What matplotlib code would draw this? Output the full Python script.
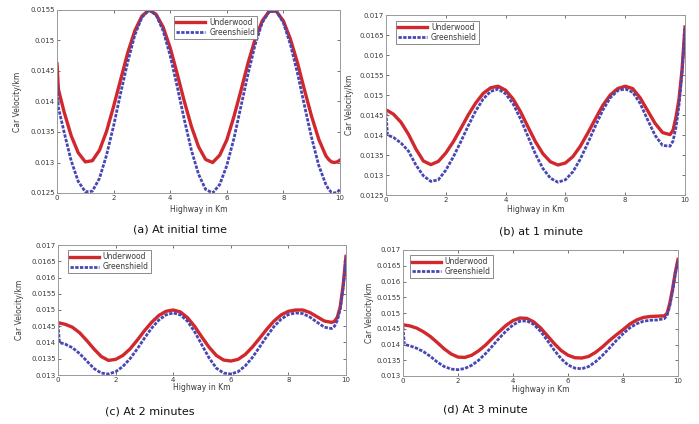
import matplotlib
matplotlib.use("Agg")
import matplotlib.pyplot as plt


# distance along the highway (km), shared by all four panels
highway_km = [0, 0.05, 0.25, 0.5, 0.75, 1.0, 1.25, 1.5, 1.75, 2.0, 2.25, 2.5, 2.75,
              3.0, 3.25, 3.5, 3.75, 4.0, 4.25, 4.5, 4.75, 5.0, 5.25, 5.5, 5.75,
              6.0, 6.25, 6.5, 6.75, 7.0, 7.25, 7.5, 7.75, 8.0, 8.25, 8.5, 8.75,
              9.0, 9.25, 9.5, 9.6, 9.7, 9.8, 9.9, 10.0]

# (a) at initial time
underwood_a = [0.01462, 0.01420, 0.01383, 0.01344, 0.01316, 0.01301, 0.01303, 0.01320,
               0.01351, 0.01392, 0.01436, 0.01480, 0.01516, 0.01540, 0.01550, 0.01543,
               0.01522, 0.01488, 0.01445, 0.01400, 0.01359, 0.01326, 0.01305, 0.01300,
               0.01312, 0.01337, 0.01375, 0.01418, 0.01463, 0.01502, 0.01532, 0.01548,
               0.01548, 0.01532, 0.01502, 0.01463, 0.01418, 0.01375, 0.01338, 0.01311,
               0.01305, 0.01301, 0.01300, 0.01301, 0.01304]
greenshield_a = [0.01430, 0.01390, 0.01350, 0.01303, 0.01269, 0.01252, 0.01253, 0.01274,
                 0.01312, 0.01360, 0.01414, 0.01465, 0.01509, 0.01538, 0.01550, 0.01542,
                 0.01516, 0.01475, 0.01424, 0.01370, 0.01320, 0.01281, 0.01256, 0.01250,
                 0.01264, 0.01295, 0.01339, 0.01392, 0.01445, 0.01493, 0.01529, 0.01548,
                 0.01548, 0.01529, 0.01493, 0.01446, 0.01392, 0.01340, 0.01295, 0.01264,
                 0.01256, 0.01251, 0.01250, 0.01251, 0.01256]

# (b) at 1 minute
underwood_b = [0.01462, 0.01461, 0.01452, 0.01432, 0.01402, 0.01365, 0.01335, 0.01326,
               0.01334, 0.01355, 0.01383, 0.01416, 0.01450, 0.01480, 0.01504, 0.01518,
               0.01522, 0.01512, 0.01490, 0.01458, 0.01420, 0.01383, 0.01353, 0.01333,
               0.01325, 0.01330, 0.01346, 0.01372, 0.01405, 0.01440, 0.01474, 0.01500,
               0.01516, 0.01522, 0.01516, 0.01493, 0.01461, 0.01429, 0.01406, 0.01401,
               0.01412, 0.01445, 0.01490, 0.01562, 0.01670]
greenshield_b = [0.01455, 0.01400, 0.01394, 0.01380, 0.01360, 0.01325, 0.01298, 0.01284,
                 0.01288, 0.01312, 0.01345, 0.01383, 0.01423, 0.01460, 0.01490, 0.01509,
                 0.01515, 0.01503, 0.01478, 0.01440, 0.01396, 0.01352, 0.01316, 0.01292,
                 0.01282, 0.01288, 0.01308, 0.01340, 0.01380, 0.01422, 0.01462, 0.01493,
                 0.01511, 0.01515, 0.01507, 0.01479, 0.01438, 0.01399, 0.01374, 0.01372,
                 0.01385, 0.01420, 0.01475, 0.01555, 0.01668]

# (c) at 2 minutes
underwood_c = [0.01461, 0.01460, 0.01456, 0.01447, 0.01430, 0.01406, 0.01380, 0.01357,
               0.01345, 0.01348, 0.01360, 0.01380, 0.01407, 0.01436, 0.01462, 0.01483,
               0.01496, 0.01500, 0.01494, 0.01476, 0.01449, 0.01416, 0.01385, 0.01360,
               0.01346, 0.01343, 0.01348, 0.01363, 0.01386, 0.01413, 0.01441, 0.01466,
               0.01485, 0.01496, 0.01500, 0.01500, 0.01492, 0.01479, 0.01466, 0.01462,
               0.01465, 0.01478, 0.01510, 0.01575, 0.01665]
greenshield_c = [0.01455, 0.01400, 0.01395, 0.01384, 0.01366, 0.01343, 0.01320, 0.01306,
                 0.01303, 0.01310, 0.01326, 0.01350, 0.01380, 0.01413, 0.01444, 0.01469,
                 0.01485, 0.01491, 0.01485, 0.01465, 0.01432, 0.01392, 0.01352, 0.01321,
                 0.01306, 0.01303, 0.01310, 0.01328, 0.01354, 0.01386, 0.01419, 0.01449,
                 0.01472, 0.01486, 0.01491, 0.01489, 0.01478, 0.01462, 0.01447, 0.01443,
                 0.01450, 0.01468, 0.01503, 0.01568, 0.01663]

# (d) at 3 minutes
underwood_d = [0.01462, 0.01462, 0.01459, 0.01452, 0.01440, 0.01425, 0.01406, 0.01386,
               0.01370, 0.01360, 0.01359, 0.01366, 0.01380, 0.01398, 0.01420, 0.01441,
               0.01461, 0.01476, 0.01484, 0.01483, 0.01472, 0.01453, 0.01428, 0.01403,
               0.01381, 0.01366, 0.01358, 0.01357, 0.01362, 0.01375, 0.01392, 0.01412,
               0.01430, 0.01447, 0.01465, 0.01478, 0.01486, 0.01489, 0.01490, 0.01491,
               0.01498, 0.01530, 0.01575, 0.01628, 0.01670]
greenshield_d = [0.01455, 0.01400, 0.01396, 0.01388, 0.01377, 0.01362, 0.01344, 0.01330,
                 0.01322, 0.01320, 0.01324, 0.01334, 0.01350, 0.01371, 0.01395, 0.01420,
                 0.01443, 0.01462, 0.01474, 0.01475, 0.01464, 0.01442, 0.01413, 0.01382,
                 0.01355, 0.01335, 0.01325, 0.01323, 0.01330, 0.01345, 0.01365, 0.01388,
                 0.01412, 0.01434, 0.01453, 0.01466, 0.01474, 0.01477, 0.01478, 0.01482,
                 0.01492, 0.01522, 0.01568, 0.01622, 0.01668]

x_ticks = [0, 2, 4, 6, 8, 10]
y_ticks_a = [0.0125, 0.013, 0.0135, 0.014, 0.0145, 0.015, 0.0155]
y_ticks_b = [0.0125, 0.013, 0.0135, 0.014, 0.0145, 0.015, 0.0155, 0.016, 0.0165, 0.017]
y_ticks_cd = [0.013, 0.0135, 0.014, 0.0145, 0.015, 0.0155, 0.016, 0.0165, 0.017]

captions = ["(a) At initial time", "(b) at 1 minute", "(c) At 2 minutes", "(d) At 3 minute"]

RED = "#d0282c"
BLUE = "#4747b4"
GREY_TEXT = "#3a3a3a"


def fig_box(left, top, right, bottom):
    # pixel box of the 699x424 picture -> figure fraction
    return [left / 699, 1 - bottom / 424, (right - left) / 699, (bottom - top) / 424]


def draw_panel(fig, box, under, green, y_ticks, legend_anchor, ylabel_x, xlabel_y):
    ax = fig.add_axes(box)
    ax.plot(highway_km, under, color=RED, linewidth=2.4, label="Underwood")
    ax.plot(highway_km, green, color=BLUE, linewidth=2.0, linestyle=(0, (1.2, 0.5)),
            label="Greenshield")

    ax.set_xlim(0, 10)
    ax.set_ylim(y_ticks[0], y_ticks[-1])
    ax.set_xticks(x_ticks)
    ax.set_yticks(y_ticks)
    ax.set_xticklabels([str(t) for t in x_ticks])
    ax.set_yticklabels([f"{t:g}" for t in y_ticks])
    ax.tick_params(direction="in", length=2, width=0.5, labelsize=5,
                   colors=GREY_TEXT, top=True, right=True, pad=1.5)
    for spine in ax.spines.values():
        spine.set_color("#999999")
        spine.set_linewidth(0.7)

    ax.set_xlabel("Highway in Km", fontsize=5.5, color=GREY_TEXT)
    ax.set_ylabel("Car Velocity/km", fontsize=5.5, color=GREY_TEXT)

    leg = ax.legend(loc="upper left", bbox_to_anchor=legend_anchor, fontsize=5.5,
                    handlelength=3.8, handletextpad=0.5, borderpad=0.3,
                    labelspacing=0.1, fancybox=False, framealpha=1)
    leg.get_frame().set_edgecolor("#777777")
    leg.get_frame().set_linewidth(0.6)
    for text in leg.get_texts():
        text.set_color(GREY_TEXT)

    # put the axis labels where they sit in the picture (pixels)
    pos = ax.get_position()
    ax.yaxis.set_label_coords(ylabel_x / 699, pos.y0 + pos.height / 2,
                              transform=fig.transFigure)
    ax.xaxis.set_label_coords(pos.x0 + pos.width / 2, 1 - xlabel_y / 424,
                              transform=fig.transFigure)
    ax.xaxis.label.set_va("center")
    ax.yaxis.label.set_va("center")
    return ax


def main():
    fig = plt.figure(figsize=(6.99, 4.24), dpi=100)

    draw_panel(fig, fig_box(57, 10, 340, 193), underwood_a, greenshield_a, y_ticks_a,
               (0.40, 0.99), 18, 209)
    draw_panel(fig, fig_box(386, 15, 685, 195), underwood_b, greenshield_b, y_ticks_b,
               (0.02, 0.99), 349, 210)
    draw_panel(fig, fig_box(58, 245, 346, 375), underwood_c, greenshield_c, y_ticks_cd,
               (0.02, 0.99), 20, 388)
    draw_panel(fig, fig_box(403, 250, 678, 376), underwood_d, greenshield_d, y_ticks_cd,
               (0.01, 0.99), 370, 389)

    caption_pos = [(180, 229), (541, 232), (150, 412), (485, 410)]
    for text, (cx, cy) in zip(captions, caption_pos):
        fig.text(cx / 699, 1 - cy / 424, text, ha="center", va="center",
                 fontsize=8, color="#111111")

    fig.savefig("out.png", dpi=100)
    plt.close(fig)


if __name__ == "__main__":
    main()
